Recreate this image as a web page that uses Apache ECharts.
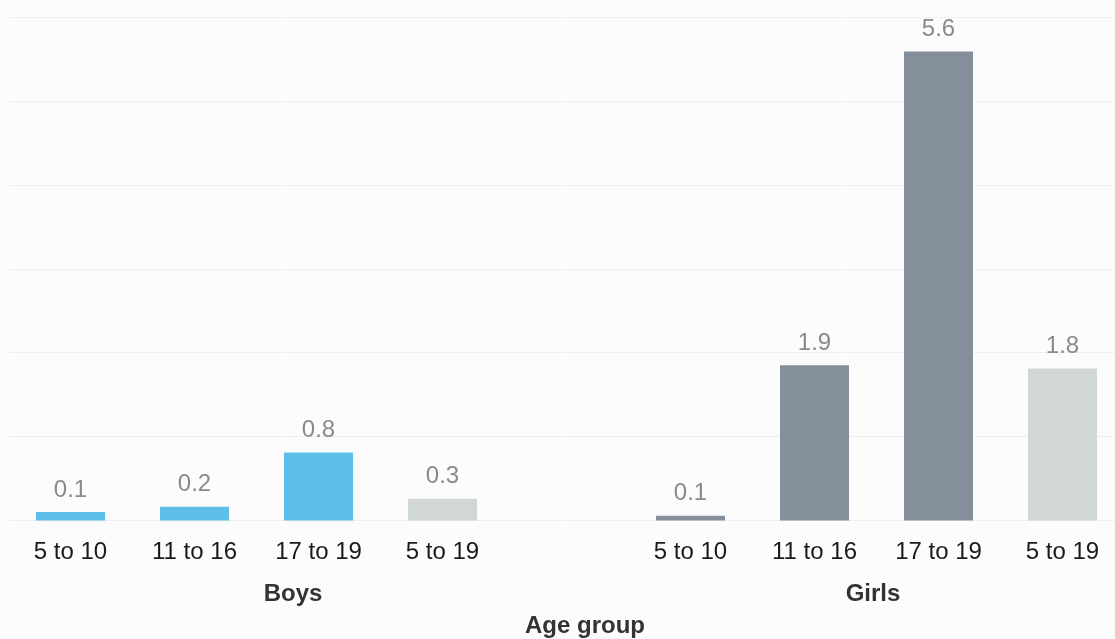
<!DOCTYPE html>
<html>
<head>
<meta charset="utf-8">
<script src="https://cdn.jsdelivr.net/npm/echarts@6/dist/echarts.min.js"></script>
<style>
html,body{margin:0;padding:0;background:#fcfcfc;overflow:hidden;width:1115px;height:639px;}
#chart{width:1125px;height:639px;}
</style>
</head>
<body>
<div id="chart"></div>
<script>
const ageGroups = ['5 to 10', '11 to 16', '17 to 19', '5 to 19'];
const groupNames = ['Boys', 'Girls'];
const boysValues = [0.10, 0.165, 0.81, 0.26];
const girlsValues = [0.057, 1.85, 5.59, 1.81];
const axisTitle = 'Age group';
const yTicks = { min: 0, max: 6, interval: 1 };

const colBoys = '#5ec0e9';
const colGirls = '#848f9b';
const colTotal = '#d1d7d7';

const categories = [...ageGroups, '', ...ageGroups];
const data = [];
boysValues.forEach((v, i) => data.push({ value: v, itemStyle: { color: i === 3 ? colTotal : colBoys } }));
data.push({ value: '-' });
girlsValues.forEach((v, i) => data.push({ value: v, itemStyle: { color: i === 3 ? colTotal : colGirls } }));

const font = 'Liberation Sans';
const chart = echarts.init(document.getElementById('chart'));
chart.setOption({
  backgroundColor: '#fcfcfc',
  animation: false,
  grid: { left: 8.5, right: 0.5, top: 17, bottom: 118.5, containLabel: false },
  xAxis: {
    type: 'category',
    data: categories,
    axisLine: { show: false },
    axisTick: { show: false },
    axisLabel: { color: '#1a1a1a', fontSize: 24, fontFamily: font, margin: 20, interval: 0 }
  },
  yAxis: {
    type: 'value',
    min: yTicks.min, max: yTicks.max, interval: yTicks.interval,
    axisLabel: { show: false },
    axisLine: { show: false },
    axisTick: { show: false },
    splitLine: { lineStyle: { color: '#efefef', width: 1 } }
  },
  series: [{
    type: 'bar',
    data: data,
    barWidth: 69,
    label: {
      show: true,
      position: 'top',
      distance: 10,
      color: '#8a8a8a',
      fontSize: 24,
      fontFamily: font,
      formatter: p => Number(p.value).toFixed(1)
    }
  }],
  graphic: [
    { type: 'text', x: 293, y: 594, style: { text: groupNames[0], font: 'bold 24px ' + font, fill: '#333', textAlign: 'center', textVerticalAlign: 'middle' } },
    { type: 'text', x: 873, y: 594, style: { text: groupNames[1], font: 'bold 24px ' + font, fill: '#333', textAlign: 'center', textVerticalAlign: 'middle' } },
    { type: 'text', x: 585, y: 626, style: { text: axisTitle, font: 'bold 24px ' + font, fill: '#333', textAlign: 'center', textVerticalAlign: 'middle' } }
  ]
});
</script>
</body>
</html>
